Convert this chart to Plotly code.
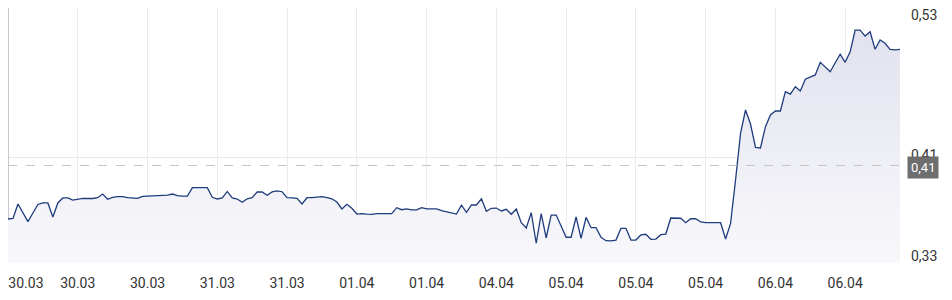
import plotly.graph_objects as go

# price series (one value per interval, index-based x axis)
values = [
    0.3645, 0.3649, 0.3763, 0.3692, 0.3625, 0.3692, 0.3759, 0.3771, 0.3771, 0.3661,
    0.3771, 0.3810, 0.3810, 0.3794, 0.3802, 0.3807, 0.3806, 0.3806, 0.3812, 0.3841,
    0.3800, 0.3815, 0.3820, 0.3820, 0.3812, 0.3810, 0.3807, 0.3823, 0.3825, 0.3825,
    0.3828, 0.3831, 0.3833, 0.3841, 0.3828, 0.3825, 0.3825, 0.3891, 0.3891, 0.3891,
    0.3891, 0.3815, 0.3802, 0.3810, 0.3861, 0.3810, 0.3802, 0.3776, 0.3804, 0.3812,
    0.3857, 0.3857, 0.3831, 0.3857, 0.3865, 0.3859, 0.3812, 0.3810, 0.3807, 0.3763,
    0.3812, 0.3812, 0.3818, 0.3820, 0.3812, 0.3804, 0.3778, 0.3724, 0.3760, 0.3729,
    0.3684, 0.3687, 0.3684, 0.3682, 0.3687, 0.3687, 0.3687, 0.3687, 0.3734, 0.3718,
    0.3724, 0.3716, 0.3716, 0.3734, 0.3724, 0.3724, 0.3724, 0.3710, 0.3700, 0.3690,
    0.3684, 0.3753, 0.3698, 0.3755, 0.3755, 0.3804, 0.3706, 0.3729, 0.3731, 0.3708,
    0.3721, 0.3682, 0.3724, 0.3616, 0.3575, 0.3695, 0.3455, 0.3687, 0.3498, 0.3676,
    0.3676, 0.3590, 0.3502, 0.3502, 0.3661, 0.3494, 0.3658, 0.3577, 0.3577, 0.3502,
    0.3475, 0.3473, 0.3480, 0.3572, 0.3572, 0.3480, 0.3480, 0.3520, 0.3525, 0.3486,
    0.3488, 0.3522, 0.3527, 0.3653, 0.3653, 0.3651, 0.3616, 0.3647, 0.3647, 0.3622,
    0.3616, 0.3616, 0.3616, 0.3616, 0.3488, 0.3611, 0.3951, 0.4317, 0.4500, 0.4390,
    0.4207, 0.4202, 0.4369, 0.4461, 0.4492, 0.4492, 0.4644, 0.4625, 0.4683, 0.4649,
    0.4741, 0.4756, 0.4775, 0.4874, 0.4840, 0.4800, 0.4871, 0.4937, 0.4874, 0.4957,
    0.5127, 0.5127, 0.5080, 0.5114, 0.4976, 0.5049, 0.5023, 0.4976, 0.4971, 0.4976,
]
x_index = list(range(len(values)))

# x tick labels (index positions)
x_tick_pos = [3.6, 14, 28, 42, 56, 70, 84, 98, 112, 126, 140, 154, 168]
x_tick_text = ["30.03", "30.03", "30.03", "31.03", "31.03", "01.04", "01.04",
               "04.04", "05.04", "05.04", "05.04", "06.04", "06.04"]
x_grid_pos = [14, 28, 42, 56, 70, 84, 98, 112, 126, 140, 154, 168]

# y axis
y_range = [0.33, 0.53]
y_grid_pos = [0.33, 0.4131, 0.53]
y_label_pos = [0.3355, 0.4147, 0.5245]
y_label_text = ["0,33", "0,41", "0,53"]

ref_value = 0.4065
ref_text = "0,41"

fig = go.Figure()
fig.add_trace(go.Scatter(
    x=x_index, y=values, mode="lines",
    line=dict(color="#1f3c7c", width=1.3),
    fill="tozeroy",
    fillgradient=dict(type="vertical", start=0.33, stop=0.515,
                      colorscale=[[0, "#f8f8fb"], [1, "#e2e2ef"]]),
    hoverinfo="skip", showlegend=False,
))

fig.add_shape(type="line", xref="paper", yref="y", x0=0, x1=1.004,
              y0=ref_value, y1=ref_value,
              line=dict(color="#c4c4c4", width=1, dash="dash"))

fig.add_annotation(xref="paper", yref="y", x=1, y=ref_value, xanchor="left",
                   xshift=7, yshift=-2, text=ref_text, showarrow=False,
                   bgcolor="#6e6e6e", font=dict(color="white", size=13, family="Roboto"),
                   borderpad=3)

fig.update_layout(
    width=952, height=300,
    margin=dict(l=8, r=52, t=8, b=37),
    paper_bgcolor="white", plot_bgcolor="white",
    font=dict(family="Roboto", size=14, color="#333333"),
    xaxis=dict(
        range=[0, 179], tickmode="array", tickvals=x_tick_pos, ticktext=x_tick_text,
        showgrid=False, ticks="", zeroline=True, zerolinecolor="#c8c8c8", zerolinewidth=1,
        showline=False, fixedrange=True, ticklabelstandoff=10,
        minor=dict(tickmode="array", tickvals=x_grid_pos, showgrid=True,
                   gridcolor="#ececec", gridwidth=1, ticks=""),
    ),
    yaxis=dict(
        range=y_range, side="right", tickmode="array", tickvals=y_label_pos,
        ticktext=y_label_text, showgrid=False, ticks="", zeroline=False,
        ticklabelstandoff=10,
        minor=dict(tickmode="array", tickvals=y_grid_pos, showgrid=True,
                   gridcolor="#e8e8e8", gridwidth=1, ticks=""),
    ),
)

fig.write_html("out.html")
